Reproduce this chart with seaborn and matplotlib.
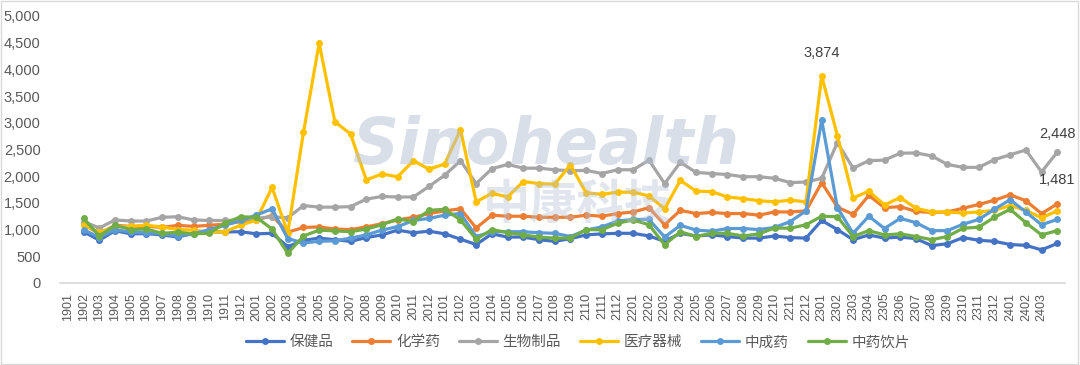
import pandas as pd
import matplotlib
matplotlib.use("Agg")
import matplotlib.pyplot as plt
from matplotlib.lines import Line2D
from matplotlib.patches import Rectangle
import seaborn as sns

# tick labels (year+month); the data points sit one slot to the right of the labels
months = ["19%02d" % m for m in range(1, 13)] + ["20%02d" % m for m in range(1, 13)] + \
         ["21%02d" % m for m in range(1, 13)] + ["22%02d" % m for m in range(1, 13)] + \
         ["23%02d" % m for m in range(1, 13)] + ["2401", "2402", "2403"]

series_names = ["保健品", "化学药", "生物制品", "医疗器械", "中成药", "中药饮片"]
colors = ["#4472C4", "#ED7D31", "#A5A5A5", "#FFC000", "#5B9BD5", "#70AD47"]

baojianpin = [960, 800, 980, 920, 925, 900, 860, 930, 960, 955, 960, 920, 930, 680, 800, 840,
              810, 780, 850, 900, 990, 940, 970, 920, 820, 720, 920, 860, 860, 810, 780, 830,
              900, 920, 930, 930, 880, 780, 930, 880, 900, 870, 840, 840, 880, 850, 840, 1170,
              1000, 810, 900, 840, 860, 830, 700, 735, 850, 800, 780, 720, 705, 620, 740]
huaxueyao = [1100, 920, 1080, 1060, 1060, 1040, 1080, 1060, 1080, 1100, 1150, 1180, 1260, 950,
             1040, 1050, 1010, 1000, 1050, 1110, 1180, 1230, 1300, 1350, 1390, 1030, 1270, 1250,
             1250, 1230, 1230, 1230, 1270, 1250, 1300, 1330, 1410, 1090, 1360, 1300, 1320, 1300,
             1300, 1270, 1330, 1330, 1350, 1880, 1420, 1285, 1640, 1410, 1430, 1340, 1320, 1330,
             1400, 1470, 1550, 1650, 1540, 1300, 1481]
shengwu = [1150, 1030, 1180, 1160, 1160, 1230, 1240, 1180, 1170, 1170, 1180, 1210, 1240, 1220,
           1450, 1420, 1420, 1430, 1570, 1620, 1610, 1610, 1810, 2020, 2290, 1860, 2140, 2220,
           2150, 2150, 2120, 2100, 2110, 2050, 2120, 2120, 2300, 1860, 2260, 2070, 2050, 2030,
           1990, 1990, 1960, 1880, 1890, 1960, 2630, 2150, 2290, 2300, 2430, 2435, 2380, 2220,
           2165, 2165, 2310, 2400, 2490, 2080, 2448]
yiliao = [1080, 950, 1050, 1060, 1080, 1050, 1000, 990, 950, 960, 1080, 1180, 1790, 940, 2820,
          4490, 3020, 2790, 1930, 2040, 1990, 2290, 2130, 2230, 2870, 1520, 1680, 1610, 1900,
          1860, 1850, 2210, 1690, 1660, 1700, 1700, 1630, 1390, 1920, 1720, 1710, 1610, 1580,
          1540, 1520, 1550, 1520, 3874, 2760, 1590, 1720, 1460, 1600, 1400, 1330, 1330, 1310,
          1330, 1360, 1450, 1360, 1220, 1350]
zhongchengyao = [1000, 850, 1000, 950, 940, 920, 880, 920, 1000, 1080, 1170, 1270, 1390, 830,
                 750, 780, 790, 840, 900, 990, 1055, 1170, 1210, 1270, 1300, 870, 960, 960, 960,
                 940, 930, 870, 990, 1050, 1160, 1190, 1190, 860, 1080, 990, 970, 1020, 1020,
                 1000, 1040, 1150, 1350, 3050, 1410, 930, 1250, 1020, 1210, 1130, 980, 980, 1100,
                 1190, 1380, 1560, 1330, 1090, 1190]
yinpian = [1210, 880, 1080, 1000, 1010, 930, 950, 920, 930, 1120, 1240, 1230, 1010, 555, 880,
           990, 975, 960, 1010, 1090, 1200, 1150, 1360, 1380, 1180, 820, 1000, 945, 900, 860,
           840, 840, 1000, 995, 1120, 1180, 1090, 715, 960, 870, 930, 930, 880, 920, 1030, 1025,
           1090, 1250, 1240, 870, 980, 900, 920, 870, 810, 870, 1025, 1045, 1230, 1380, 1130,
           900, 980]

values = [baojianpin, huaxueyao, shengwu, yiliao, zhongchengyao, yinpian]

rows = []
for name, vals in zip(series_names, values):
    for i, v in enumerate(vals):
        rows.append({"pos": i + 1, "value": v, "series": name})
df = pd.DataFrame(rows)

sns.set_theme(style="white")
plt.rcParams["font.family"] = ["Liberation Sans", "Noto Sans CJK SC", "DejaVu Sans"]

fig = plt.figure(figsize=(10.8, 3.65), dpi=100)
ax = fig.add_axes([0.0556, 0.2247, 0.9306, 0.7316])

sns.lineplot(data=df, x="pos", y="value", hue="series", hue_order=series_names,
             palette=colors, marker="o", markersize=5, markeredgewidth=0,
             linewidth=2.3, legend=False, ax=ax)

ax.set_xlim(-0.5, 63.5)
ax.set_ylim(0, 5000)
ax.set_yticks(range(0, 5001, 500))
ax.set_yticklabels([f"{v:,}" for v in range(0, 5001, 500)], fontsize=10.5, color="#595959")
ax.set_xticks(range(len(months)))
ax.set_xticklabels(months, rotation=90, fontsize=9, color="#595959")
ax.tick_params(axis="y", length=0, pad=14)
ax.tick_params(axis="x", length=0, pad=7)
ax.set_xlabel("")
ax.set_ylabel("")
for s in ["top", "left", "right"]:
    ax.spines[s].set_visible(False)
ax.spines["bottom"].set_color("#D9D9D9")
ax.grid(False)

# data labels
ax.annotate("3,874", (48, 3874), xytext=(0, 14), textcoords="offset points",
            ha="center", fontsize=10.5, color="#404040")
ax.annotate("2,448", (63, 2448), xytext=(0, 10), textcoords="offset points",
            ha="center", fontsize=10.5, color="#404040")
ax.annotate("1,481", (63, 1481), xytext=(0, 14), textcoords="offset points",
            ha="center", fontsize=10.5, color="#404040")

# watermark
fig.text(0.505, 0.6, "Sinohealth", fontsize=46, style="italic", fontweight="bold",
         color="#B4C0D4", alpha=0.5, ha="center", va="center", family=["DejaVu Sans"])
fig.text(0.535, 0.44, "中康科技", fontsize=34, fontweight="bold",
         color="#B4C0D4", alpha=0.4, ha="center", va="center",
         family=["Noto Sans CJK SC", "DejaVu Sans"])

handles = [Line2D([0], [0], color=c, lw=2.3, marker="o", markersize=5, markeredgewidth=0)
           for c in colors]
fig.legend(handles, series_names, loc="center", bbox_to_anchor=(0.535, 0.062), ncol=6,
           frameon=False, fontsize=10.5, handlelength=2.6, columnspacing=1.3,
           handletextpad=0.4, labelcolor="#595959")

fig.add_artist(Rectangle((0.001, 0.002), 0.997, 0.995, transform=fig.transFigure,
                         fill=False, edgecolor="#D9D9D9", lw=1))

fig.savefig("out.png", dpi=100)
